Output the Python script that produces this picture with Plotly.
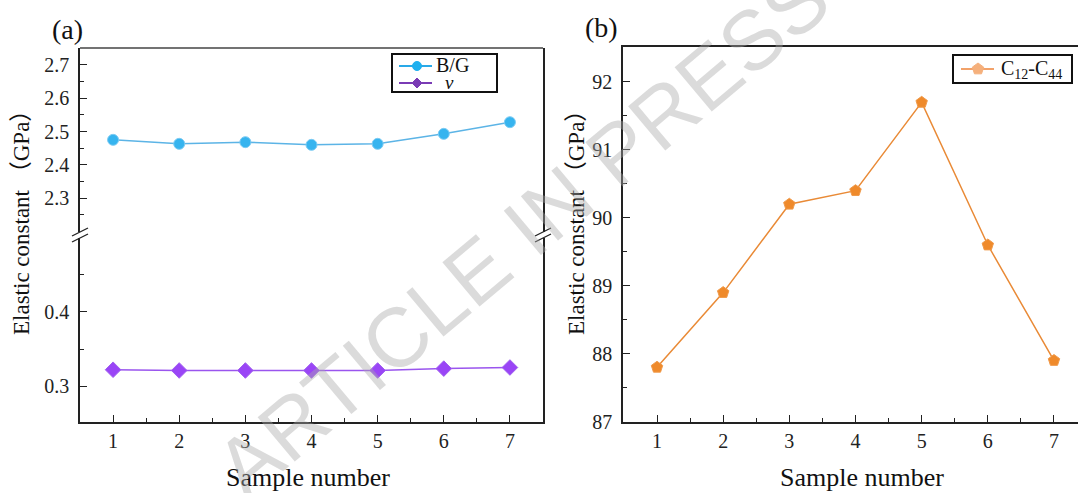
import math
import plotly.graph_objects as go

W, H = 1078, 493

samples = [1, 2, 3, 4, 5, 6, 7]
bg_ratio = [2.475, 2.463, 2.468, 2.460, 2.463, 2.493, 2.528]
poisson = [0.322, 0.321, 0.321, 0.321, 0.321, 0.3235, 0.325]
c12_c44 = [87.8, 88.9, 90.2, 90.4, 91.7, 89.6, 87.9]

x_ticks = [1, 2, 3, 4, 5, 6, 7]
upper_ticks = [2.3, 2.4, 2.5, 2.6, 2.7]
lower_ticks = [0.3, 0.4]
b_ticks = [87, 88, 89, 90, 91, 92]

SERIF = "Liberation Serif, Times New Roman, serif"
AX = "#222222"
BLUE_L, BLUE_M = "#5cb4e6", "#36b4ef"
PURP_L, PURP_M = "#9a55ee", "#9a45f6"
ORNG_L, ORNG_M = "#e98a36", "#ef8a2b"


def px(x):
    return x / W


def py(y):
    return 1 - y / H


fig = go.Figure()

fig.add_trace(go.Scatter(
    x=samples, y=bg_ratio, name="B/G", mode="lines+markers",
    xaxis="x", yaxis="y2",
    line=dict(color=BLUE_L, width=1.5),
    marker=dict(symbol="circle", size=11, color=BLUE_M,
                line=dict(color="#7ccbf3", width=1)),
))
fig.add_trace(go.Scatter(
    x=samples, y=poisson, name="v", mode="lines+markers",
    xaxis="x", yaxis="y",
    line=dict(color=PURP_L, width=1.5),
    marker=dict(symbol="diamond", size=12, color=PURP_M,
                line=dict(color="#a060f0", width=1)),
))
fig.add_trace(go.Scatter(
    x=samples, y=c12_c44, name="C12-C44", mode="lines+markers",
    xaxis="x3", yaxis="y3",
    line=dict(color=ORNG_L, width=1.5),
    marker=dict(symbol="pentagon", size=12, color=ORNG_M,
                line=dict(color="#f09a4a", width=1)),
))

tickfont = dict(family=SERIF, size=20, color="#222")
common = dict(showgrid=False, zeroline=False, showline=True, linecolor=AX,
              linewidth=1.5, ticks="inside", ticklen=7, tickwidth=1.2,
              tickcolor=AX, tickfont=tickfont, automargin=False)
minor_x = dict(tickvals=[1.5, 2.5, 3.5, 4.5, 5.5, 6.5], ticks="inside",
               ticklen=4, tickcolor=AX)

fig.update_layout(
    width=W, height=H,
    margin=dict(l=0, r=0, t=0, b=0, pad=0),
    paper_bgcolor="white", plot_bgcolor="white",
    showlegend=False,
    xaxis=dict(domain=[px(80), px(543)], range=[0.5, 7.5], anchor="y",
               tickvals=x_ticks, minor=minor_x, **common),
    yaxis=dict(domain=[py(422), py(235)], range=[0.2514, 0.504], anchor="x",
               tickvals=lower_ticks, ticktext=["0.3", "0.4"], mirror=True,
               ticklabelstandoff=5,
               minor=dict(tickvals=[0.35, 0.45], ticks="inside", ticklen=4, tickcolor=AX),
               **common),
    yaxis2=dict(domain=[py(235), py(48)], range=[2.189, 2.751], anchor="x",
                tickvals=upper_ticks, ticktext=["2.3", "2.4", "2.5", "2.6", "2.7"],
                mirror=True, ticklabelstandoff=5,
                minor=dict(tickvals=[2.25, 2.35, 2.45, 2.55, 2.65], ticks="inside",
                           ticklen=4, tickcolor=AX),
                **common),
    xaxis3=dict(domain=[px(623), 1.0], range=[0.486, 7.363], anchor="y3",
                tickvals=x_ticks, mirror=True, minor=minor_x, **common),
    yaxis3=dict(domain=[py(422), py(47)], range=[86.995, 92.515], anchor="x3",
                tickvals=b_ticks, ticklabelstandoff=5,
                minor=dict(tickvals=[87.5, 88.5, 89.5, 90.5, 91.5], ticks="inside",
                           ticklen=4, tickcolor=AX),
                **common),
)

shapes = []
shapes.append(dict(type="line", xref="paper", yref="paper",
                   x0=px(80), x1=px(543), y0=py(48), y1=py(48),
                   line=dict(color="#444", width=1.5)))


def break_mark(xc, yc):
    out = [dict(type="rect", xref="paper", yref="paper",
                x0=px(xc - 3), x1=px(xc + 3), y0=py(yc + 3), y1=py(yc - 3),
                fillcolor="white", line=dict(width=0))]
    for dy in (-3, 3):
        out.append(dict(type="line", xref="paper", yref="paper",
                        x0=px(xc - 8), x1=px(xc + 8),
                        y0=py(yc + dy + 4), y1=py(yc + dy - 4),
                        line=dict(color=AX, width=1.3)))
    return out


shapes += break_mark(80, 235)
shapes += break_mark(543, 235)


# ---- legends (key glyphs drawn in pixel space) ----
def leg_box(x0, y0, x1, y1):
    return dict(type="rect", xref="paper", yref="paper",
                x0=px(x0), x1=px(x1), y0=py(y1), y1=py(y0),
                fillcolor="white", line=dict(color="#111", width=2))


def leg_line(x0, x1, y, color):
    return dict(type="line", xref="paper", yref="paper",
                x0=px(x0), x1=px(x1), y0=py(y), y1=py(y),
                line=dict(color=color, width=2))


def poly(points, color):
    path = "M " + " L ".join(f"{px(a):.5f},{py(b):.5f}" for a, b in points) + " Z"
    return dict(type="path", xref="paper", yref="paper", path=path,
                fillcolor=color, line=dict(color=color, width=1))


def circle(xc, yc, r, color):
    return dict(type="circle", xref="paper", yref="paper",
                x0=px(xc - r), x1=px(xc + r), y0=py(yc + r), y1=py(yc - r),
                fillcolor=color, line=dict(color=color, width=1))


def diamond(xc, yc, r, color):
    return poly([(xc, yc - r), (xc + r, yc), (xc, yc + r), (xc - r, yc)], color)


def pentagon(xc, yc, r, color):
    pts = []
    for k in range(5):
        a = math.radians(-90 + 72 * k)
        pts.append((xc + r * math.cos(a), yc + r * math.sin(a)))
    return poly(pts, color)


shapes.append(leg_box(392, 54, 497, 92))
shapes.append(leg_line(399, 432, 66, "#29a9e8"))
shapes.append(circle(417, 66, 4.5, "#1fb0ef"))
shapes.append(leg_line(399, 432, 83, "#7a3bb5"))
shapes.append(diamond(417, 83, 5, "#7a3bb5"))

shapes.append(leg_box(953, 55, 1072, 83))
shapes.append(leg_line(961, 994, 69, "#f2a26a"))
shapes.append(pentagon(978, 69, 6, "#f5b07c"))

annotations = [
    dict(text="B/G", x=px(434), y=py(65), xanchor="left", yanchor="middle",
         xref="paper", yref="paper", showarrow=False,
         font=dict(family=SERIF, size=20, color="#111")),
    dict(text="<i>v</i>", x=px(443), y=py(83), xanchor="left", yanchor="middle",
         xref="paper", yref="paper", showarrow=False,
         font=dict(family=SERIF, size=19, color="#111")),
    dict(text="C<sub>12</sub>-C<sub>44</sub>", x=px(999), y=py(69), xanchor="left",
         yanchor="middle", xref="paper", yref="paper", showarrow=False,
         font=dict(family=SERIF, size=20, color="#111")),
    dict(text="(a)", x=px(67), y=py(30), xanchor="center", yanchor="middle",
         xref="paper", yref="paper", showarrow=False,
         font=dict(family=SERIF, size=28, color="#111")),
    dict(text="(b)", x=px(601), y=py(28), xanchor="center", yanchor="middle",
         xref="paper", yref="paper", showarrow=False,
         font=dict(family=SERIF, size=28, color="#111")),
    dict(text="Sample number", x=px(308), y=py(477), xanchor="center", yanchor="middle",
         xref="paper", yref="paper", showarrow=False,
         font=dict(family=SERIF, size=26, color="#111")),
    dict(text="Sample number", x=px(862), y=py(477), xanchor="center", yanchor="middle",
         xref="paper", yref="paper", showarrow=False,
         font=dict(family=SERIF, size=26, color="#111")),
    dict(text="Elastic constant （GPa）", x=px(22), y=py(217), xanchor="center",
         yanchor="middle", xref="paper", yref="paper", textangle=-90, showarrow=False,
         font=dict(family="Liberation Serif, Noto Sans CJK SC", size=23, color="#111")),
    dict(text="Elastic constant （GPa）", x=px(577), y=py(217), xanchor="center",
         yanchor="middle", xref="paper", yref="paper", textangle=-90, showarrow=False,
         font=dict(family="Liberation Serif, Noto Sans CJK SC", size=23, color="#111")),
    dict(text="ARTICLE IN PRESS", x=px(522), y=py(233), xanchor="center", yanchor="middle",
         xref="paper", yref="paper", textangle=-40, showarrow=False,
         font=dict(family="Liberation Sans, Arial", size=84, color="rgba(170,170,170,0.42)")),
]

fig.update_layout(shapes=shapes, annotations=annotations)

fig.write_html("out.html")
